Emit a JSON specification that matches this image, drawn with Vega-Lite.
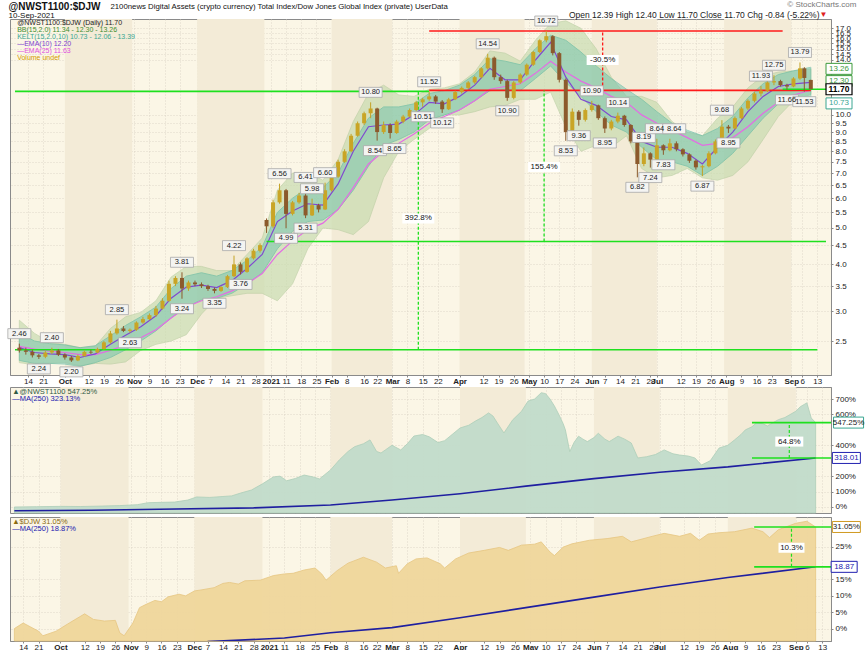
{
"$schema":"https://vega.github.io/schema/vega-lite/v6.json",
"padding":{"left":5,"top":0,"right":0,"bottom":0},
"background":"#ffffff",
"config":{"view":{"stroke":"#8a8a8a","fill":"#fbf6e6"},"font":"Liberation Sans",
 "axis":{"labelFont":"Liberation Sans","labelFontSize":8,"labelColor":"#222","domainColor":"#8a8a8a","tickColor":"#8a8a8a","tickSize":2,"labelPadding":2,"gridColor":"#d9d2c2","gridDash":[1,2],"gridWidth":0.8,"labelOverlap":false,"tickCount":300}},
"datasets":{
"one":[{}],
"mon":[{"s":"2020/10/01","e":"2020/11/01"},{"s":"2020/12/01","e":"2021/01/01"},{"s":"2021/02/01","e":"2021/03/01"},{"s":"2021/04/01","e":"2021/05/01"},{"s":"2021/06/01","e":"2021/07/01"},{"s":"2021/08/01","e":"2021/09/01"}],
"px":[
{"d":"2020/09/10","o":2.40,"h":2.46,"l":2.33,"c":2.36},
{"d":"2020/09/13","o":2.36,"h":2.40,"l":2.30,"c":2.34},
{"d":"2020/09/16","o":2.34,"h":2.37,"l":2.26,"c":2.29},
{"d":"2020/09/19","o":2.29,"h":2.31,"l":2.24,"c":2.27},
{"d":"2020/09/22","o":2.27,"h":2.35,"l":2.25,"c":2.33},
{"d":"2020/09/25","o":2.33,"h":2.40,"l":2.31,"c":2.36},
{"d":"2020/09/28","o":2.36,"h":2.38,"l":2.28,"c":2.30},
{"d":"2020/10/01","o":2.30,"h":2.32,"l":2.23,"c":2.26},
{"d":"2020/10/04","o":2.26,"h":2.28,"l":2.20,"c":2.22},
{"d":"2020/10/07","o":2.22,"h":2.30,"l":2.21,"c":2.28},
{"d":"2020/10/10","o":2.28,"h":2.36,"l":2.27,"c":2.34},
{"d":"2020/10/13","o":2.34,"h":2.37,"l":2.31,"c":2.33},
{"d":"2020/10/16","o":2.33,"h":2.40,"l":2.32,"c":2.38},
{"d":"2020/10/19","o":2.38,"h":2.50,"l":2.37,"c":2.48},
{"d":"2020/10/22","o":2.48,"h":2.66,"l":2.46,"c":2.62},
{"d":"2020/10/25","o":2.62,"h":2.85,"l":2.60,"c":2.70},
{"d":"2020/10/28","o":2.70,"h":2.74,"l":2.64,"c":2.66},
{"d":"2020/10/31","o":2.66,"h":2.70,"l":2.63,"c":2.68},
{"d":"2020/11/03","o":2.68,"h":2.82,"l":2.66,"c":2.80},
{"d":"2020/11/06","o":2.80,"h":2.90,"l":2.78,"c":2.86},
{"d":"2020/11/09","o":2.86,"h":2.96,"l":2.84,"c":2.93},
{"d":"2020/11/12","o":2.93,"h":3.10,"l":2.90,"c":3.05},
{"d":"2020/11/15","o":3.05,"h":3.25,"l":3.03,"c":3.20},
{"d":"2020/11/18","o":3.20,"h":3.62,"l":3.18,"c":3.55},
{"d":"2020/11/21","o":3.55,"h":3.72,"l":3.50,"c":3.68},
{"d":"2020/11/24","o":3.68,"h":3.81,"l":3.24,"c":3.45},
{"d":"2020/11/27","o":3.45,"h":3.62,"l":3.40,"c":3.58},
{"d":"2020/11/30","o":3.58,"h":3.62,"l":3.50,"c":3.54},
{"d":"2020/12/03","o":3.54,"h":3.58,"l":3.46,"c":3.50},
{"d":"2020/12/06","o":3.50,"h":3.53,"l":3.40,"c":3.44},
{"d":"2020/12/09","o":3.44,"h":3.47,"l":3.35,"c":3.40},
{"d":"2020/12/12","o":3.40,"h":3.50,"l":3.38,"c":3.48},
{"d":"2020/12/15","o":3.48,"h":3.75,"l":3.46,"c":3.72},
{"d":"2020/12/18","o":3.72,"h":4.22,"l":3.70,"c":4.00},
{"d":"2020/12/21","o":4.00,"h":4.05,"l":3.76,"c":3.82},
{"d":"2020/12/24","o":3.82,"h":4.18,"l":3.80,"c":4.15},
{"d":"2020/12/27","o":4.15,"h":4.40,"l":4.12,"c":4.35},
{"d":"2020/12/30","o":4.35,"h":4.55,"l":4.30,"c":4.50},
{"d":"2021/01/02","o":5.25,"h":5.30,"l":4.85,"c":5.05},
{"d":"2021/01/05","o":5.05,"h":5.95,"l":5.00,"c":5.85},
{"d":"2021/01/08","o":5.85,"h":6.56,"l":5.80,"c":6.30},
{"d":"2021/01/11","o":6.30,"h":6.35,"l":4.99,"c":5.45},
{"d":"2021/01/14","o":5.45,"h":5.90,"l":5.40,"c":5.85},
{"d":"2021/01/17","o":5.85,"h":6.20,"l":5.80,"c":6.10},
{"d":"2021/01/20","o":6.10,"h":6.41,"l":5.31,"c":5.40},
{"d":"2021/01/23","o":5.40,"h":5.98,"l":5.38,"c":5.75},
{"d":"2021/01/26","o":5.75,"h":5.80,"l":5.50,"c":5.60},
{"d":"2021/01/29","o":5.60,"h":6.60,"l":5.58,"c":6.30},
{"d":"2021/02/01","o":6.30,"h":6.90,"l":6.25,"c":6.85},
{"d":"2021/02/04","o":6.85,"h":7.60,"l":6.80,"c":7.50},
{"d":"2021/02/07","o":7.50,"h":8.10,"l":7.45,"c":8.00},
{"d":"2021/02/10","o":8.00,"h":8.90,"l":7.95,"c":8.80},
{"d":"2021/02/13","o":8.80,"h":9.60,"l":8.75,"c":9.50},
{"d":"2021/02/16","o":9.50,"h":10.20,"l":9.40,"c":10.10},
{"d":"2021/02/19","o":10.10,"h":10.80,"l":9.80,"c":10.40},
{"d":"2021/02/22","o":10.40,"h":10.45,"l":8.54,"c":9.00},
{"d":"2021/02/25","o":9.00,"h":9.60,"l":8.90,"c":9.40},
{"d":"2021/02/28","o":9.40,"h":9.50,"l":8.65,"c":8.95},
{"d":"2021/03/03","o":8.95,"h":9.70,"l":8.90,"c":9.60},
{"d":"2021/03/06","o":9.60,"h":10.00,"l":9.50,"c":9.90},
{"d":"2021/03/09","o":9.90,"h":10.40,"l":9.85,"c":10.30},
{"d":"2021/03/12","o":10.30,"h":10.90,"l":10.20,"c":10.80},
{"d":"2021/03/15","o":10.80,"h":11.10,"l":10.51,"c":11.00},
{"d":"2021/03/18","o":11.00,"h":11.52,"l":10.90,"c":11.20},
{"d":"2021/03/21","o":11.20,"h":11.30,"l":10.70,"c":10.85},
{"d":"2021/03/24","o":10.85,"h":10.95,"l":10.12,"c":10.35},
{"d":"2021/03/27","o":10.35,"h":11.10,"l":10.30,"c":11.00},
{"d":"2021/03/30","o":11.00,"h":11.60,"l":10.95,"c":11.50},
{"d":"2021/04/02","o":11.50,"h":11.90,"l":11.40,"c":11.80},
{"d":"2021/04/05","o":11.80,"h":12.30,"l":11.70,"c":12.20},
{"d":"2021/04/08","o":12.20,"h":12.70,"l":12.10,"c":12.60},
{"d":"2021/04/11","o":12.60,"h":13.40,"l":12.50,"c":13.30},
{"d":"2021/04/14","o":13.30,"h":14.54,"l":13.20,"c":14.20},
{"d":"2021/04/17","o":14.20,"h":14.30,"l":12.40,"c":12.60},
{"d":"2021/04/20","o":12.60,"h":12.80,"l":12.10,"c":12.30},
{"d":"2021/04/23","o":12.30,"h":12.40,"l":10.90,"c":11.10},
{"d":"2021/04/26","o":11.10,"h":12.30,"l":11.00,"c":12.20},
{"d":"2021/04/29","o":12.20,"h":12.90,"l":12.10,"c":12.80},
{"d":"2021/05/02","o":12.80,"h":13.70,"l":12.70,"c":13.60},
{"d":"2021/05/05","o":13.60,"h":14.80,"l":13.50,"c":14.70},
{"d":"2021/05/08","o":14.70,"h":15.90,"l":14.60,"c":15.80},
{"d":"2021/05/11","o":15.80,"h":16.72,"l":15.60,"c":16.20},
{"d":"2021/05/14","o":16.20,"h":16.30,"l":14.40,"c":14.60},
{"d":"2021/05/17","o":14.60,"h":14.70,"l":12.20,"c":12.40},
{"d":"2021/05/20","o":12.40,"h":12.50,"l":8.53,"c":9.00},
{"d":"2021/05/23","o":9.00,"h":10.40,"l":8.80,"c":10.20},
{"d":"2021/05/26","o":10.20,"h":10.30,"l":9.36,"c":9.70},
{"d":"2021/05/29","o":9.70,"h":10.40,"l":9.60,"c":10.30},
{"d":"2021/06/01","o":10.30,"h":10.90,"l":10.20,"c":10.60},
{"d":"2021/06/04","o":10.60,"h":10.65,"l":9.70,"c":9.80},
{"d":"2021/06/07","o":9.80,"h":9.90,"l":8.95,"c":9.20},
{"d":"2021/06/10","o":9.20,"h":9.70,"l":9.10,"c":9.60},
{"d":"2021/06/13","o":9.60,"h":10.14,"l":9.50,"c":9.95},
{"d":"2021/06/16","o":9.95,"h":10.00,"l":9.30,"c":9.40},
{"d":"2021/06/19","o":9.40,"h":9.45,"l":8.40,"c":8.50},
{"d":"2021/06/22","o":8.50,"h":8.55,"l":6.82,"c":7.40},
{"d":"2021/06/25","o":7.40,"h":8.19,"l":7.30,"c":7.90},
{"d":"2021/06/28","o":7.90,"h":7.95,"l":7.24,"c":7.60},
{"d":"2021/07/01","o":7.60,"h":8.64,"l":7.55,"c":8.30},
{"d":"2021/07/04","o":8.30,"h":8.35,"l":7.83,"c":8.05},
{"d":"2021/07/07","o":8.05,"h":8.64,"l":8.00,"c":8.40},
{"d":"2021/07/10","o":8.40,"h":8.50,"l":8.00,"c":8.10},
{"d":"2021/07/13","o":8.10,"h":8.15,"l":7.75,"c":7.85},
{"d":"2021/07/16","o":7.85,"h":7.90,"l":7.45,"c":7.55},
{"d":"2021/07/19","o":7.55,"h":7.60,"l":7.15,"c":7.25},
{"d":"2021/07/22","o":7.25,"h":7.35,"l":6.87,"c":7.30},
{"d":"2021/07/25","o":7.30,"h":8.00,"l":7.25,"c":7.90},
{"d":"2021/07/28","o":7.90,"h":8.60,"l":7.85,"c":8.50},
{"d":"2021/07/31","o":8.50,"h":9.68,"l":8.45,"c":9.30},
{"d":"2021/08/03","o":9.30,"h":9.40,"l":8.95,"c":9.20},
{"d":"2021/08/06","o":9.20,"h":9.90,"l":9.15,"c":9.80},
{"d":"2021/08/09","o":9.80,"h":10.50,"l":9.75,"c":10.40},
{"d":"2021/08/12","o":10.40,"h":11.00,"l":10.30,"c":10.90},
{"d":"2021/08/15","o":10.90,"h":11.50,"l":10.80,"c":11.40},
{"d":"2021/08/18","o":11.40,"h":11.93,"l":11.20,"c":11.60},
{"d":"2021/08/21","o":11.60,"h":12.30,"l":11.50,"c":12.20},
{"d":"2021/08/24","o":12.20,"h":12.75,"l":12.00,"c":12.30},
{"d":"2021/08/27","o":12.30,"h":12.40,"l":11.90,"c":12.00},
{"d":"2021/08/30","o":12.00,"h":12.10,"l":11.66,"c":11.90},
{"d":"2021/09/02","o":11.90,"h":12.60,"l":11.85,"c":12.50},
{"d":"2021/09/05","o":12.50,"h":13.79,"l":12.40,"c":13.30},
{"d":"2021/09/07","o":13.30,"h":13.40,"l":11.53,"c":12.54},
{"d":"2021/09/10","o":12.39,"h":12.40,"l":11.70,"c":11.70}],
"bands":[
{"d":"2020/09/10","e10":2.40,"e25":2.42,"ku":2.62,"kl":2.22,"bu":2.84,"bl":2.19},
{"d":"2020/09/17","e10":2.33,"e25":2.38,"ku":2.50,"kl":2.18,"bu":2.62,"bl":2.16},
{"d":"2020/09/24","e10":2.31,"e25":2.35,"ku":2.46,"kl":2.18,"bu":2.48,"bl":2.18},
{"d":"2020/10/01","e10":2.30,"e25":2.33,"ku":2.44,"kl":2.17,"bu":2.45,"bl":2.19},
{"d":"2020/10/08","e10":2.26,"e25":2.30,"ku":2.40,"kl":2.14,"bu":2.40,"bl":2.15},
{"d":"2020/10/15","e10":2.31,"e25":2.30,"ku":2.43,"kl":2.19,"bu":2.42,"bl":2.18},
{"d":"2020/10/22","e10":2.45,"e25":2.36,"ku":2.58,"kl":2.26,"bu":2.70,"bl":2.17},
{"d":"2020/10/29","e10":2.59,"e25":2.44,"ku":2.75,"kl":2.37,"bu":2.90,"bl":2.20},
{"d":"2020/11/05","e10":2.73,"e25":2.55,"ku":2.90,"kl":2.50,"bu":2.98,"bl":2.36},
{"d":"2020/11/12","e10":2.92,"e25":2.68,"ku":3.08,"kl":2.66,"bu":3.20,"bl":2.45},
{"d":"2020/11/19","e10":3.25,"e25":2.88,"ku":3.45,"kl":2.88,"bu":3.70,"bl":2.50},
{"d":"2020/11/26","e10":3.48,"e25":3.08,"ku":3.72,"kl":3.08,"bu":3.95,"bl":2.60},
{"d":"2020/12/03","e10":3.52,"e25":3.20,"ku":3.80,"kl":3.22,"bu":3.95,"bl":2.95},
{"d":"2020/12/10","e10":3.47,"e25":3.28,"ku":3.72,"kl":3.25,"bu":3.85,"bl":3.25},
{"d":"2020/12/17","e10":3.62,"e25":3.40,"ku":3.85,"kl":3.35,"bu":3.85,"bl":3.30},
{"d":"2020/12/24","e10":3.90,"e25":3.55,"ku":4.10,"kl":3.55,"bu":4.25,"bl":3.35},
{"d":"2020/12/31","e10":4.25,"e25":3.78,"ku":4.45,"kl":3.80,"bu":4.70,"bl":3.35},
{"d":"2021/01/07","e10":5.20,"e25":4.25,"ku":5.50,"kl":4.40,"bu":6.30,"bl":3.20},
{"d":"2021/01/14","e10":5.55,"e25":4.62,"ku":6.00,"kl":4.90,"bu":7.00,"bl":3.55},
{"d":"2021/01/21","e10":5.80,"e25":4.95,"ku":6.40,"kl":5.20,"bu":7.00,"bl":4.40},
{"d":"2021/01/28","e10":5.75,"e25":5.15,"ku":6.40,"kl":5.25,"bu":6.70,"bl":5.00},
{"d":"2021/02/04","e10":6.55,"e25":5.60,"ku":7.00,"kl":5.60,"bu":7.60,"bl":4.95},
{"d":"2021/02/11","e10":8.00,"e25":6.40,"ku":8.40,"kl":6.30,"bu":9.60,"bl":4.80},
{"d":"2021/02/18","e10":9.30,"e25":7.40,"ku":9.80,"kl":7.30,"bu":11.40,"bl":5.20},
{"d":"2021/02/25","e10":9.40,"e25":8.00,"ku":10.50,"kl":8.30,"bu":12.00,"bl":6.80},
{"d":"2021/03/04","e10":9.45,"e25":8.40,"ku":10.50,"kl":8.60,"bu":11.30,"bl":8.00},
{"d":"2021/03/11","e10":10.00,"e25":8.90,"ku":10.70,"kl":9.00,"bu":11.20,"bl":8.60},
{"d":"2021/03/18","e10":10.80,"e25":9.50,"ku":11.40,"kl":9.70,"bu":11.70,"bl":9.20},
{"d":"2021/03/25","e10":10.70,"e25":9.90,"ku":11.60,"kl":10.00,"bu":11.80,"bl":10.00},
{"d":"2021/04/01","e10":11.20,"e25":10.30,"ku":12.00,"kl":10.30,"bu":12.10,"bl":10.00},
{"d":"2021/04/08","e10":12.00,"e25":10.90,"ku":12.80,"kl":10.90,"bu":13.00,"bl":10.20},
{"d":"2021/04/15","e10":13.30,"e25":11.70,"ku":14.10,"kl":11.60,"bu":14.80,"bl":10.50},
{"d":"2021/04/22","e10":12.40,"e25":11.90,"ku":13.90,"kl":11.70,"bu":14.60,"bl":10.60},
{"d":"2021/04/29","e10":12.40,"e25":12.10,"ku":13.60,"kl":11.60,"bu":13.90,"bl":11.00},
{"d":"2021/05/06","e10":14.00,"e25":12.90,"ku":15.00,"kl":12.50,"bu":15.80,"bl":11.00},
{"d":"2021/05/13","e10":15.60,"e25":13.90,"ku":16.30,"kl":13.50,"bu":17.50,"bl":11.50},
{"d":"2021/05/20","e10":12.60,"e25":13.00,"ku":15.80,"kl":12.20,"bu":17.80,"bl":9.30},
{"d":"2021/05/27","e10":11.00,"e25":12.30,"ku":14.70,"kl":11.20,"bu":17.00,"bl":8.00},
{"d":"2021/06/03","e10":10.60,"e25":11.80,"ku":13.50,"kl":10.20,"bu":15.00,"bl":8.30},
{"d":"2021/06/10","e10":9.90,"e25":11.20,"ku":12.50,"kl":9.40,"bu":12.60,"bl":8.20},
{"d":"2021/06/17","e10":9.70,"e25":10.80,"ku":11.70,"kl":9.00,"bu":11.20,"bl":8.80},
{"d":"2021/06/24","e10":8.50,"e25":10.00,"ku":11.00,"kl":8.20,"bu":11.20,"bl":7.20},
{"d":"2021/07/01","e10":8.20,"e25":9.50,"ku":10.20,"kl":7.60,"bu":10.80,"bl":6.80},
{"d":"2021/07/08","e10":8.20,"e25":9.10,"ku":9.50,"kl":7.50,"bu":9.60,"bl":6.90},
{"d":"2021/07/15","e10":7.90,"e25":8.70,"ku":9.10,"kl":7.30,"bu":9.00,"bl":7.20},
{"d":"2021/07/22","e10":7.40,"e25":8.30,"ku":8.80,"kl":6.90,"bu":8.80,"bl":6.80},
{"d":"2021/07/29","e10":8.20,"e25":8.40,"ku":9.20,"kl":7.30,"bu":9.80,"bl":6.70},
{"d":"2021/08/05","e10":9.00,"e25":8.70,"ku":9.90,"kl":7.90,"bu":10.50,"bl":6.90},
{"d":"2021/08/12","e10":10.20,"e25":9.30,"ku":11.10,"kl":8.80,"bu":11.80,"bl":7.50},
{"d":"2021/08/19","e10":11.20,"e25":10.10,"ku":12.10,"kl":9.80,"bu":12.70,"bl":8.60},
{"d":"2021/08/26","e10":11.90,"e25":10.80,"ku":12.80,"kl":10.70,"bu":13.00,"bl":9.90},
{"d":"2021/09/02","e10":12.10,"e25":11.30,"ku":13.10,"kl":11.00,"bu":13.10,"bl":10.90},
{"d":"2021/09/10","e10":12.20,"e25":11.63,"ku":13.39,"kl":10.73,"bu":13.26,"bl":11.34}],
"lbl":[
{"d":"2020/09/10","p":2.46,"t":"2.46","k":"h"},{"d":"2020/09/25","p":2.40,"t":"2.40","k":"h"},{"d":"2020/10/25","p":2.85,"t":"2.85","k":"h"},{"d":"2020/11/24","p":3.81,"t":"3.81","k":"h"},{"d":"2020/12/18","p":4.22,"t":"4.22","k":"h"},{"d":"2021/01/08","p":6.56,"t":"6.56","k":"h"},{"d":"2021/01/20","p":6.41,"t":"6.41","k":"h"},{"d":"2021/01/23","p":5.98,"t":"5.98","k":"h"},{"d":"2021/01/29","p":6.60,"t":"6.60","k":"h"},{"d":"2021/02/19","p":10.80,"t":"10.80","k":"h"},{"d":"2021/03/18","p":11.52,"t":"11.52","k":"h"},{"d":"2021/04/14","p":14.54,"t":"14.54","k":"h"},{"d":"2021/05/11","p":16.72,"t":"16.72","k":"h"},{"d":"2021/06/01","p":10.90,"t":"10.90","k":"h"},{"d":"2021/06/13","p":10.14,"t":"10.14","k":"h"},{"d":"2021/06/25","p":8.19,"t":"8.19","k":"h"},{"d":"2021/07/01","p":8.64,"t":"8.64","k":"h"},{"d":"2021/07/09","p":8.64,"t":"8.64","k":"h"},{"d":"2021/07/31","p":9.68,"t":"9.68","k":"h"},{"d":"2021/08/18","p":11.93,"t":"11.93","k":"h"},{"d":"2021/08/24","p":12.75,"t":"12.75","k":"h"},{"d":"2021/09/05","p":13.79,"t":"13.79","k":"h"},
{"d":"2020/09/19","p":2.24,"t":"2.24","k":"l"},{"d":"2020/10/04","p":2.20,"t":"2.20","k":"l"},{"d":"2020/10/31","p":2.63,"t":"2.63","k":"l"},{"d":"2020/11/24","p":3.24,"t":"3.24","k":"l"},{"d":"2020/12/09","p":3.35,"t":"3.35","k":"l"},{"d":"2020/12/21","p":3.76,"t":"3.76","k":"l"},{"d":"2021/01/11","p":4.99,"t":"4.99","k":"l"},{"d":"2021/01/20","p":5.31,"t":"5.31","k":"l"},{"d":"2021/02/21","p":8.54,"t":"8.54","k":"l"},{"d":"2021/03/02","p":8.65,"t":"8.65","k":"l"},{"d":"2021/03/15","p":10.51,"t":"10.51","k":"l"},{"d":"2021/03/24","p":10.12,"t":"10.12","k":"l"},{"d":"2021/04/23","p":10.90,"t":"10.90","k":"l"},{"d":"2021/05/20","p":8.53,"t":"8.53","k":"l"},{"d":"2021/05/26","p":9.36,"t":"9.36","k":"l"},{"d":"2021/06/07","p":8.95,"t":"8.95","k":"l"},{"d":"2021/06/22","p":6.82,"t":"6.82","k":"l"},{"d":"2021/06/28","p":7.24,"t":"7.24","k":"l"},{"d":"2021/07/04","p":7.83,"t":"7.83","k":"l"},{"d":"2021/07/22","p":6.87,"t":"6.87","k":"l"},{"d":"2021/08/03","p":8.95,"t":"8.95","k":"l"},{"d":"2021/08/30","p":11.66,"t":"11.66","k":"l"},{"d":"2021/09/07","p":11.53,"t":"11.53","k":"l"}],
"hl":[{"s":"2020/09/08","e":"2021/03/18","p":11.55,"c":"#1ee01e"},{"s":"2021/03/18","e":"2021/09/10","p":11.62,"c":"#ff1a1a"},{"s":"2021/08/28","e":"2021/09/17","p":11.70,"c":"#1ee01e"},{"s":"2021/03/18","e":"2021/08/28","p":16.72,"c":"#ff1a1a"},{"s":"2021/01/02","e":"2021/09/17","p":4.60,"c":"#1ee01e"},{"s":"2020/09/08","e":"2021/09/13","p":2.37,"c":"#1ee01e"}],
"vl":[{"d":"2021/03/13","a":2.37,"b":11.55,"c":"#1ee01e"},{"d":"2021/05/10","a":4.60,"b":11.62,"c":"#1ee01e"},{"d":"2021/06/06","a":11.62,"b":16.72,"c":"#ff1a1a"}],
"pct":[{"d":"2021/03/13","p":5.3,"t":"392.8%"},{"d":"2021/05/10","p":7.27,"t":"155.4%"},{"d":"2021/06/06","p":14.0,"t":"-30.5%"}],
"rb":[{"p":13.26,"t":"13.26","c":"#3d9a3d"},{"p":12.30,"t":"12.30","c":"#3d9a3d"},{"p":10.73,"t":"10.73","c":"#3aa692"}],
"p1":[{"d":"2020/09/10","v":0},{"d":"2020/09/20","v":2},{"d":"2020/10/01","v":4},{"d":"2020/10/10","v":3},{"d":"2020/10/20","v":6},{"d":"2020/10/28","v":9},{"d":"2020/11/05","v":15},{"d":"2020/11/10","v":28},{"d":"2020/11/16","v":30},{"d":"2020/11/22","v":32},{"d":"2020/11/28","v":45},{"d":"2020/12/02","v":65},{"d":"2020/12/08","v":62},{"d":"2020/12/14","v":68},{"d":"2020/12/18","v":72},{"d":"2020/12/22","v":90},{"d":"2020/12/27","v":110},{"d":"2021/01/01","v":150},{"d":"2021/01/06","v":195},{"d":"2021/01/09","v":200},{"d":"2021/01/12","v":170},{"d":"2021/01/16","v":185},{"d":"2021/01/20","v":207},{"d":"2021/01/24","v":195},{"d":"2021/01/27","v":182},{"d":"2021/02/01","v":240},{"d":"2021/02/05","v":305},{"d":"2021/02/09","v":360},{"d":"2021/02/12","v":391},{"d":"2021/02/16","v":410},{"d":"2021/02/19","v":435},{"d":"2021/02/22","v":360},{"d":"2021/02/24","v":350},{"d":"2021/02/26","v":370},{"d":"2021/03/01","v":400},{"d":"2021/03/05","v":370},{"d":"2021/03/08","v":410},{"d":"2021/03/11","v":460},{"d":"2021/03/15","v":470},{"d":"2021/03/18","v":455},{"d":"2021/03/22","v":418},{"d":"2021/03/25","v":430},{"d":"2021/04/01","v":512},{"d":"2021/04/05","v":530},{"d":"2021/04/08","v":557},{"d":"2021/04/11","v":580},{"d":"2021/04/14","v":610},{"d":"2021/04/16","v":590},{"d":"2021/04/18","v":545},{"d":"2021/04/21","v":480},{"d":"2021/04/25","v":565},{"d":"2021/04/29","v":620},{"d":"2021/05/02","v":687},{"d":"2021/05/05","v":700},{"d":"2021/05/08","v":741},{"d":"2021/05/10","v":735},{"d":"2021/05/12","v":700},{"d":"2021/05/14","v":655},{"d":"2021/05/16","v":600},{"d":"2021/05/18","v":540},{"d":"2021/05/19","v":500},{"d":"2021/05/21","v":359},{"d":"2021/05/23","v":420},{"d":"2021/05/25","v":459},{"d":"2021/05/27","v":440},{"d":"2021/05/29","v":424},{"d":"2021/06/01","v":450},{"d":"2021/06/03","v":478},{"d":"2021/06/06","v":440},{"d":"2021/06/08","v":424},{"d":"2021/06/12","v":459},{"d":"2021/06/15","v":440},{"d":"2021/06/18","v":415},{"d":"2021/06/21","v":318},{"d":"2021/06/25","v":326},{"d":"2021/06/29","v":340},{"d":"2021/07/03","v":370},{"d":"2021/07/07","v":345},{"d":"2021/07/10","v":337},{"d":"2021/07/14","v":330},{"d":"2021/07/17","v":318},{"d":"2021/07/20","v":272},{"d":"2021/07/24","v":300},{"d":"2021/07/28","v":382},{"d":"2021/08/01","v":400},{"d":"2021/08/04","v":434},{"d":"2021/08/07","v":470},{"d":"2021/08/09","v":500},{"d":"2021/08/12","v":520},{"d":"2021/08/14","v":545},{"d":"2021/08/17","v":540},{"d":"2021/08/19","v":525},{"d":"2021/08/22","v":550},{"d":"2021/08/24","v":566},{"d":"2021/08/27","v":580},{"d":"2021/09/01","v":621},{"d":"2021/09/03","v":650},{"d":"2021/09/06","v":675},{"d":"2021/09/08","v":577},{"d":"2021/09/10","v":547.25}],
"m1":[{"d":"2020/09/10","v":-24},{"d":"2020/10/15","v":-21},{"d":"2020/11/15","v":-15},{"d":"2020/12/28","v":-6},{"d":"2021/02/01","v":13},{"d":"2021/03/01","v":45},{"d":"2021/04/01","v":86},{"d":"2021/05/01","v":135},{"d":"2021/06/01","v":184},{"d":"2021/07/01","v":225},{"d":"2021/08/01","v":260},{"d":"2021/09/10","v":318}],
"p2":[{"d":"2020/09/10","v":0},{"d":"2020/09/14","v":1.7},{"d":"2020/09/21","v":-0.8},{"d":"2020/09/23","v":-2.2},{"d":"2020/09/29","v":-0.8},{"d":"2020/10/05","v":1.7},{"d":"2020/10/12","v":4.5},{"d":"2020/10/16","v":2.8},{"d":"2020/10/21","v":2.3},{"d":"2020/10/26","v":2.5},{"d":"2020/10/28","v":-1.3},{"d":"2020/10/30","v":-2.2},{"d":"2020/11/03","v":1.7},{"d":"2020/11/06","v":6.4},{"d":"2020/11/09","v":7.4},{"d":"2020/11/13","v":8.6},{"d":"2020/11/16","v":8.2},{"d":"2020/11/19","v":9.7},{"d":"2020/11/24","v":10.5},{"d":"2020/11/27","v":10.0},{"d":"2020/12/01","v":11.5},{"d":"2020/12/04","v":11.8},{"d":"2020/12/10","v":12.5},{"d":"2020/12/14","v":13.8},{"d":"2020/12/17","v":14.1},{"d":"2020/12/21","v":13.6},{"d":"2020/12/24","v":14.6},{"d":"2020/12/31","v":14.8},{"d":"2021/01/06","v":16.2},{"d":"2021/01/11","v":16.7},{"d":"2021/01/15","v":16.9},{"d":"2021/01/20","v":17.9},{"d":"2021/01/25","v":18.5},{"d":"2021/01/28","v":16.7},{"d":"2021/01/30","v":14.8},{"d":"2021/02/04","v":17.7},{"d":"2021/02/09","v":20.0},{"d":"2021/02/16","v":21.8},{"d":"2021/02/22","v":20.3},{"d":"2021/02/26","v":18.5},{"d":"2021/03/03","v":19.2},{"d":"2021/03/04","v":16.9},{"d":"2021/03/08","v":19.8},{"d":"2021/03/12","v":21.3},{"d":"2021/03/17","v":21.6},{"d":"2021/03/23","v":19.8},{"d":"2021/03/25","v":18.5},{"d":"2021/03/30","v":21.3},{"d":"2021/04/05","v":23.1},{"d":"2021/04/12","v":23.9},{"d":"2021/04/19","v":24.8},{"d":"2021/04/23","v":23.9},{"d":"2021/04/29","v":25.5},{"d":"2021/05/05","v":25.8},{"d":"2021/05/08","v":26.5},{"d":"2021/05/12","v":23.4},{"d":"2021/05/14","v":22.3},{"d":"2021/05/18","v":24.9},{"d":"2021/05/22","v":25.9},{"d":"2021/05/30","v":27.0},{"d":"2021/06/07","v":27.5},{"d":"2021/06/14","v":28.2},{"d":"2021/06/18","v":26.5},{"d":"2021/06/22","v":27.2},{"d":"2021/06/27","v":28.1},{"d":"2021/07/03","v":29.1},{"d":"2021/07/10","v":28.2},{"d":"2021/07/15","v":29.1},{"d":"2021/07/19","v":27.0},{"d":"2021/07/23","v":28.9},{"d":"2021/07/28","v":29.3},{"d":"2021/08/04","v":29.6},{"d":"2021/08/12","v":30.7},{"d":"2021/08/17","v":29.6},{"d":"2021/08/20","v":27.8},{"d":"2021/08/24","v":30.2},{"d":"2021/09/01","v":32.2},{"d":"2021/09/06","v":32.8},{"d":"2021/09/10","v":31.05}],
"m2":[{"d":"2020/12/07","v":-4.0},{"d":"2021/01/11","v":-2.9},{"d":"2021/02/01","v":-1.3},{"d":"2021/03/01","v":0.3},{"d":"2021/04/01","v":3.3},{"d":"2021/05/01","v":6.4},{"d":"2021/06/01","v":9.6},{"d":"2021/07/01","v":12.7},{"d":"2021/08/01","v":15.6},{"d":"2021/09/10","v":18.87}]
},
"spacing":0,
"vconcat":[
{"width":821,"height":356,
 "layer":[
  {"data":{"name":"mon"},"mark":{"type":"rect","color":"#f3ebd7"},
   "encoding":{"x":{"field":"s","type":"temporal","title":null,"scale":{"domain":[{"year":2020,"month":9,"date":8},{"year":2021,"month":9,"date":17}]},
     "axis":{"orient":"bottom","grid":true,"labelOverlap":false,"tickCount":300,"labelFlush":false,"labelFontSize":8,"labelPadding":0,"tickSize":2,
      "labelExpr":"date(datum.value) <= 4 ? (month(datum.value) == 0 ? '2021' : timeFormat(datum.value, '%b')) : timeFormat(datum.value, '%-d')",
      "labelFontWeight":{"condition":{"test":"date(datum.value) <= 4","value":"bold"},"value":"normal"},
      "values":[{"year":2020,"month":9,"date":14},{"year":2020,"month":9,"date":21},{"year":2020,"month":10,"date":1},{"year":2020,"month":10,"date":12},{"year":2020,"month":10,"date":19},{"year":2020,"month":10,"date":26},{"year":2020,"month":11,"date":2},{"year":2020,"month":11,"date":9},{"year":2020,"month":11,"date":16},{"year":2020,"month":11,"date":23},{"year":2020,"month":12,"date":1},{"year":2020,"month":12,"date":7},{"year":2020,"month":12,"date":14},{"year":2020,"month":12,"date":21},{"year":2020,"month":12,"date":28},{"year":2021,"month":1,"date":4},{"year":2021,"month":1,"date":11},{"year":2021,"month":1,"date":18},{"year":2021,"month":1,"date":25},{"year":2021,"month":2,"date":1},{"year":2021,"month":2,"date":8},{"year":2021,"month":2,"date":16},{"year":2021,"month":2,"date":22},{"year":2021,"month":3,"date":1},{"year":2021,"month":3,"date":8},{"year":2021,"month":3,"date":15},{"year":2021,"month":3,"date":22},{"year":2021,"month":4,"date":1},{"year":2021,"month":4,"date":12},{"year":2021,"month":4,"date":19},{"year":2021,"month":4,"date":26},{"year":2021,"month":5,"date":3},{"year":2021,"month":5,"date":10},{"year":2021,"month":5,"date":17},{"year":2021,"month":5,"date":24},{"year":2021,"month":6,"date":1},{"year":2021,"month":6,"date":7},{"year":2021,"month":6,"date":14},{"year":2021,"month":6,"date":21},{"year":2021,"month":6,"date":28},{"year":2021,"month":7,"date":1},{"year":2021,"month":7,"date":12},{"year":2021,"month":7,"date":19},{"year":2021,"month":7,"date":26},{"year":2021,"month":8,"date":2},{"year":2021,"month":8,"date":9},{"year":2021,"month":8,"date":16},{"year":2021,"month":8,"date":23},{"year":2021,"month":9,"date":1},{"year":2021,"month":9,"date":6},{"year":2021,"month":9,"date":13}]}},
    "x2":{"field":"e"}}},
  {"data":{"name":"bands"},"mark":{"type":"area","color":"#c9dcb0","opacity":0.7,"stroke":"#b3c99a","strokeWidth":0.8},
   "encoding":{"x":{"field":"d","type":"temporal","title":null},
    "y":{"field":"bl","type":"quantitative","title":null,"scale":{"type":"log","domain":[2.03,18],"nice":false,"zero":false},
     "axis":{"orient":"right","grid":true,"format":".1f","labelOverlap":false,"tickCount":300,"values":[2.5,3,3.5,4,4.5,5,5.5,6,6.5,7,7.5,8,8.5,9,9.5,10,14,14.5,15,15.5,16,16.5,17]}},
    "y2":{"field":"bu"}}},
  {"data":{"name":"bands"},"mark":{"type":"area","color":"#6fc2ad","opacity":0.5,"stroke":"#3fae9a","strokeWidth":1},
   "encoding":{"x":{"field":"d","type":"temporal","title":null},"y":{"field":"kl","type":"quantitative","title":null,"scale":{"type":"log"}},"y2":{"field":"ku"}}},
  {"data":{"name":"bands"},"mark":{"type":"line","color":"#e46ce4","strokeWidth":1.2},
   "encoding":{"x":{"field":"d","type":"temporal","title":null},"y":{"field":"e25","type":"quantitative","title":null,"scale":{"type":"log"}}}},
  {"data":{"name":"bands"},"mark":{"type":"line","color":"#8048d0","strokeWidth":1.2},
   "encoding":{"x":{"field":"d","type":"temporal","title":null},"y":{"field":"e10","type":"quantitative","title":null,"scale":{"type":"log"}}}},
  {"data":{"name":"hl"},"mark":{"type":"rule","strokeWidth":1.6},
   "encoding":{"x":{"field":"s","type":"temporal","title":null},"x2":{"field":"e"},"y":{"field":"p","type":"quantitative","title":null,"scale":{"type":"log"}},"color":{"field":"c","type":"nominal","scale":null}}},
  {"data":{"name":"vl"},"mark":{"type":"rule","strokeWidth":1.3,"strokeDash":[3,2]},
   "encoding":{"x":{"field":"d","type":"temporal","title":null},"y":{"field":"a","type":"quantitative","title":null,"scale":{"type":"log"}},"y2":{"field":"b"},"color":{"field":"c","type":"nominal","scale":null}}},
  {"data":{"name":"px"},"mark":{"type":"rule","strokeWidth":1},
   "encoding":{"x":{"field":"d","type":"temporal","title":null},"y":{"field":"l","type":"quantitative","title":null,"scale":{"type":"log"}},"y2":{"field":"h"},
    "color":{"condition":{"test":"datum.c >= datum.o","value":"#c4a224"},"value":"#8c5a2c"}}},
  {"data":{"name":"px"},"mark":{"type":"bar","width":4},
   "encoding":{"x":{"field":"d","type":"temporal","title":null},"y":{"field":"o","type":"quantitative","title":null,"scale":{"type":"log"}},"y2":{"field":"c"},
    "color":{"condition":{"test":"datum.c >= datum.o","value":"#c9a526"},"value":"#8c5a2c"}}},
  {"data":{"name":"lbl"},"transform":[{"filter":"datum.k == 'h'"}],"mark":{"type":"point","shape":"M-1.15,-0.5H1.15V0.5H-1.15Z","size":400,"filled":true,"fill":"#f4f4f2","stroke":"#a8a8a8","strokeWidth":0.8,"opacity":1,"yOffset":-10},
   "encoding":{"x":{"field":"d","type":"temporal","title":null},"y":{"field":"p","type":"quantitative","title":null,"scale":{"type":"log"}}}},
  {"data":{"name":"lbl"},"transform":[{"filter":"datum.k == 'h'"}],"mark":{"type":"text","fontSize":7.5,"color":"#222","yOffset":-10},
   "encoding":{"x":{"field":"d","type":"temporal","title":null},"y":{"field":"p","type":"quantitative","title":null,"scale":{"type":"log"}},"text":{"field":"t"}}},
  {"data":{"name":"lbl"},"transform":[{"filter":"datum.k == 'l'"}],"mark":{"type":"point","shape":"M-1.15,-0.5H1.15V0.5H-1.15Z","size":400,"filled":true,"fill":"#f4f4f2","stroke":"#a8a8a8","strokeWidth":0.8,"opacity":1,"yOffset":10},
   "encoding":{"x":{"field":"d","type":"temporal","title":null},"y":{"field":"p","type":"quantitative","title":null,"scale":{"type":"log"}}}},
  {"data":{"name":"lbl"},"transform":[{"filter":"datum.k == 'l'"}],"mark":{"type":"text","fontSize":7.5,"color":"#222","yOffset":10},
   "encoding":{"x":{"field":"d","type":"temporal","title":null},"y":{"field":"p","type":"quantitative","title":null,"scale":{"type":"log"}},"text":{"field":"t"}}},
  {"data":{"name":"pct"},"mark":{"type":"point","shape":"M-1.6,-0.5H1.6V0.5H-1.6Z","size":400,"filled":true,"fill":"#ffffff","opacity":1},
   "encoding":{"x":{"field":"d","type":"temporal","title":null},"y":{"field":"p","type":"quantitative","title":null,"scale":{"type":"log"}}}},
  {"data":{"name":"pct"},"mark":{"type":"text","fontSize":8,"color":"#111"},
   "encoding":{"x":{"field":"d","type":"temporal","title":null},"y":{"field":"p","type":"quantitative","title":null,"scale":{"type":"log"}},"text":{"field":"t"}}},
  {"data":{"name":"rb"},"mark":{"type":"point","shape":"M-1.3,-0.55H1.3V0.55H-1.3Z","size":400,"filled":true,"fill":"#ffffff","strokeWidth":1,"opacity":1},
   "encoding":{"x":{"datum":{"year":2021,"month":9,"date":23},"type":"temporal"},"y":{"field":"p","type":"quantitative","title":null,"scale":{"type":"log"}},"stroke":{"field":"c","type":"nominal","scale":null}}},
  {"data":{"name":"rb"},"mark":{"type":"text","fontSize":8},
   "encoding":{"x":{"datum":{"year":2021,"month":9,"date":23},"type":"temporal"},"y":{"field":"p","type":"quantitative","title":null,"scale":{"type":"log"}},"text":{"field":"t"},"color":{"field":"c","type":"nominal","scale":null}}},
  {"data":{"name":"one"},"mark":{"type":"point","shape":"M-1.3,-0.55H1.3V0.55H-1.3Z","size":400,"filled":true,"fill":"#ffffff","stroke":"#000000","strokeWidth":1.2,"opacity":1},
   "encoding":{"x":{"datum":{"year":2021,"month":9,"date":23},"type":"temporal"},"y":{"datum":11.70,"type":"quantitative","scale":{"type":"log"}}}},
  {"data":{"name":"one"},"mark":{"type":"text","fontSize":8.5,"fontWeight":"bold","color":"#000","text":"11.70"},
   "encoding":{"x":{"datum":{"year":2021,"month":9,"date":23},"type":"temporal"},"y":{"datum":11.70,"type":"quantitative","scale":{"type":"log"}}}},
  {"data":{"name":"one"},"mark":{"type":"text","fontSize":7,"align":"left","color":"#222","text":"@NWST1100:$DJW (Daily) 11.70"},
   "encoding":{"x":{"datum":{"year":2020,"month":9,"date":9},"type":"temporal"},"y":{"datum":17.56,"type":"quantitative","scale":{"type":"log"}}}},
  {"data":{"name":"one"},"mark":{"type":"text","fontSize":7,"align":"left","color":"#3d8c2e","text":"BB(15,2.0) 11.34 - 12.30 - 13.26"},
   "encoding":{"x":{"datum":{"year":2020,"month":9,"date":9},"type":"temporal"},"y":{"datum":16.82,"type":"quantitative","scale":{"type":"log"}}}},
  {"data":{"name":"one"},"mark":{"type":"text","fontSize":7,"align":"left","color":"#3aa692","text":"KELT(15,2.0,10) 10.73 - 12.06 - 13.39"},
   "encoding":{"x":{"datum":{"year":2020,"month":9,"date":9},"type":"temporal"},"y":{"datum":16.12,"type":"quantitative","scale":{"type":"log"}}}},
  {"data":{"name":"one"},"mark":{"type":"text","fontSize":7,"align":"left","color":"#7b3fd0","text":"—EMA(10) 12.20"},
   "encoding":{"x":{"datum":{"year":2020,"month":9,"date":9},"type":"temporal"},"y":{"datum":15.44,"type":"quantitative","scale":{"type":"log"}}}},
  {"data":{"name":"one"},"mark":{"type":"text","fontSize":7,"align":"left","color":"#e050e0","text":"—EMA(25) 11.63"},
   "encoding":{"x":{"datum":{"year":2020,"month":9,"date":9},"type":"temporal"},"y":{"datum":14.79,"type":"quantitative","scale":{"type":"log"}}}},
  {"data":{"name":"one"},"mark":{"type":"text","fontSize":7,"align":"left","color":"#d39a00","text":"Volume undef"},
   "encoding":{"x":{"datum":{"year":2020,"month":9,"date":9},"type":"temporal"},"y":{"datum":14.17,"type":"quantitative","scale":{"type":"log"}}}},
  {"data":{"name":"one"},"mark":{"type":"text","fontSize":10,"fontWeight":"bold","align":"left","color":"#111","text":"@NWST1100:$DJW"},
   "encoding":{"x":{"datum":{"year":2020,"month":9,"date":5},"type":"temporal"},"y":{"datum":19.36,"type":"quantitative","scale":{"type":"log"}}}},
  {"data":{"name":"one"},"mark":{"type":"text","fontSize":7.8,"align":"left","color":"#111","text":"2100news Digital Assets (crypto currency) Total Index/Dow Jones Global Index (private) UserData"},
   "encoding":{"x":{"datum":{"year":2020,"month":10,"date":22},"type":"temporal"},"y":{"datum":19.36,"type":"quantitative","scale":{"type":"log"}}}},
  {"data":{"name":"one"},"mark":{"type":"text","fontSize":8,"align":"left","color":"#111","text":"10-Sep-2021"},
   "encoding":{"x":{"datum":{"year":2020,"month":9,"date":5},"type":"temporal"},"y":{"datum":18.33,"type":"quantitative","scale":{"type":"log"}}}},
  {"data":{"name":"one"},"mark":{"type":"text","fontSize":8,"align":"right","color":"#777","text":"© StockCharts.com"},
   "encoding":{"x":{"datum":{"year":2021,"month":10,"date":1},"type":"temporal"},"y":{"datum":19.6,"type":"quantitative","scale":{"type":"log"}}}},
  {"data":{"name":"one"},"mark":{"type":"text","fontSize":8.5,"align":"right","color":"#222","text":"Open 12.39  High 12.40  Low 11.70  Close 11.70  Chg -0.84 (-5.22%)"},
   "encoding":{"x":{"datum":{"year":2021,"month":9,"date":14},"type":"temporal"},"y":{"datum":18.45,"type":"quantitative","scale":{"type":"log"}}}},
  {"data":{"name":"one"},"mark":{"type":"text","fontSize":8,"align":"left","color":"#e02020","text":"▼"},
   "encoding":{"x":{"datum":{"year":2021,"month":9,"date":14},"type":"temporal"},"y":{"datum":18.45,"type":"quantitative","scale":{"type":"log"}}}}
 ]},
{"width":821,"height":126,
 "layer":[
  {"data":{"name":"mon"},"mark":{"type":"rect","color":"#f3ebd7"},
   "encoding":{"x":{"field":"s","type":"temporal","title":null,"scale":{"domain":[{"year":2020,"month":9,"date":8},{"year":2021,"month":9,"date":17}]},
     "axis":{"orient":"bottom","grid":true,"labels":false,"ticks":false,"domain":false,"tickCount":300,
      "values":[{"year":2020,"month":9,"date":14},{"year":2020,"month":9,"date":21},{"year":2020,"month":10,"date":1},{"year":2020,"month":10,"date":12},{"year":2020,"month":10,"date":19},{"year":2020,"month":10,"date":26},{"year":2020,"month":11,"date":2},{"year":2020,"month":11,"date":9},{"year":2020,"month":11,"date":16},{"year":2020,"month":11,"date":23},{"year":2020,"month":12,"date":1},{"year":2020,"month":12,"date":7},{"year":2020,"month":12,"date":14},{"year":2020,"month":12,"date":21},{"year":2020,"month":12,"date":28},{"year":2021,"month":1,"date":4},{"year":2021,"month":1,"date":11},{"year":2021,"month":1,"date":18},{"year":2021,"month":1,"date":25},{"year":2021,"month":2,"date":1},{"year":2021,"month":2,"date":8},{"year":2021,"month":2,"date":16},{"year":2021,"month":2,"date":22},{"year":2021,"month":3,"date":1},{"year":2021,"month":3,"date":8},{"year":2021,"month":3,"date":15},{"year":2021,"month":3,"date":22},{"year":2021,"month":4,"date":1},{"year":2021,"month":4,"date":12},{"year":2021,"month":4,"date":19},{"year":2021,"month":4,"date":26},{"year":2021,"month":5,"date":3},{"year":2021,"month":5,"date":10},{"year":2021,"month":5,"date":17},{"year":2021,"month":5,"date":24},{"year":2021,"month":6,"date":1},{"year":2021,"month":6,"date":7},{"year":2021,"month":6,"date":14},{"year":2021,"month":6,"date":21},{"year":2021,"month":6,"date":28},{"year":2021,"month":7,"date":1},{"year":2021,"month":7,"date":12},{"year":2021,"month":7,"date":19},{"year":2021,"month":7,"date":26},{"year":2021,"month":8,"date":2},{"year":2021,"month":8,"date":9},{"year":2021,"month":8,"date":16},{"year":2021,"month":8,"date":23},{"year":2021,"month":9,"date":1},{"year":2021,"month":9,"date":6},{"year":2021,"month":9,"date":13}]}},
    "x2":{"field":"e"}}},
  {"data":{"name":"p1"},"mark":{"type":"area","color":"#c2dccb","opacity":0.95,"stroke":"#a9cdb8","strokeWidth":0.8},
   "encoding":{"x":{"field":"d","type":"temporal","title":null},
    "y":{"field":"v","type":"quantitative","title":null,"scale":{"domain":[-39,778],"nice":false,"zero":false},
     "axis":{"orient":"right","grid":true,"tickCount":300,"values":[0,100,200,400,600,700],"labelExpr":"datum.value + '%'"}},
    "y2":{"datum":-39}}},
  {"data":{"name":"m1"},"mark":{"type":"line","color":"#1f1fa0","strokeWidth":1.6,"clip":true},
   "encoding":{"x":{"field":"d","type":"temporal","title":null},"y":{"field":"v","type":"quantitative","title":null}}},
  {"data":{"values":[{"p":547.25},{"p":318}]},"mark":{"type":"rule","color":"#1ee01e","strokeWidth":1.6},
   "encoding":{"x":{"datum":{"year":2021,"month":8,"date":12},"type":"temporal"},"x2":{"datum":{"year":2021,"month":9,"date":17}},"y":{"field":"p","type":"quantitative","title":null}}},
  {"data":{"name":"one"},"mark":{"type":"rule","color":"#1ee01e","strokeWidth":1.2,"strokeDash":[3,2]},
   "encoding":{"x":{"datum":{"year":2021,"month":8,"date":29},"type":"temporal"},"y":{"datum":318,"type":"quantitative"},"y2":{"datum":547.25}}},
  {"data":{"name":"one"},"mark":{"type":"point","shape":"M-1.4,-0.5H1.4V0.5H-1.4Z","size":400,"filled":true,"fill":"#ffffff","opacity":1},
   "encoding":{"x":{"datum":{"year":2021,"month":8,"date":29},"type":"temporal"},"y":{"datum":424,"type":"quantitative"}}},
  {"data":{"name":"one"},"mark":{"type":"text","fontSize":8,"color":"#111","text":"64.8%"},
   "encoding":{"x":{"datum":{"year":2021,"month":8,"date":29},"type":"temporal"},"y":{"datum":424,"type":"quantitative"}}},
  {"data":{"name":"one"},"mark":{"type":"point","shape":"M-1.5,-0.55H1.5V0.55H-1.5Z","size":400,"filled":true,"fill":"#ffffff","stroke":"#3aa692","strokeWidth":1,"opacity":1},
   "encoding":{"x":{"datum":{"year":2021,"month":9,"date":25},"type":"temporal"},"y":{"datum":547.25,"type":"quantitative"}}},
  {"data":{"name":"one"},"mark":{"type":"text","fontSize":8,"color":"#222","text":"547.25%"},
   "encoding":{"x":{"datum":{"year":2021,"month":9,"date":25},"type":"temporal"},"y":{"datum":547.25,"type":"quantitative"}}},
  {"data":{"name":"one"},"mark":{"type":"point","shape":"M-1.4,-0.55H1.4V0.55H-1.4Z","size":400,"filled":true,"fill":"#ffffff","stroke":"#2020b0","strokeWidth":1,"opacity":1},
   "encoding":{"x":{"datum":{"year":2021,"month":9,"date":24},"type":"temporal"},"y":{"datum":318,"type":"quantitative"}}},
  {"data":{"name":"one"},"mark":{"type":"text","fontSize":8,"color":"#2020b0","text":"318.01"},
   "encoding":{"x":{"datum":{"year":2021,"month":9,"date":24},"type":"temporal"},"y":{"datum":318,"type":"quantitative"}}},
  {"data":{"name":"one"},"mark":{"type":"text","fontSize":7.5,"align":"left","color":"#2f5a44","text":"▲@NWST1100 547.25%"},
   "encoding":{"x":{"datum":{"year":2020,"month":9,"date":9},"type":"temporal"},"y":{"datum":745,"type":"quantitative"}}},
  {"data":{"name":"one"},"mark":{"type":"text","fontSize":7.5,"align":"left","color":"#2020b0","text":"—MA(250) 323.13%"},
   "encoding":{"x":{"datum":{"year":2020,"month":9,"date":9},"type":"temporal"},"y":{"datum":698,"type":"quantitative"}}}
 ]},
{"width":821,"height":124,
 "layer":[
  {"data":{"name":"mon"},"mark":{"type":"rect","color":"#f3ebd7"},
   "encoding":{"x":{"field":"s","type":"temporal","title":null,"scale":{"domain":[{"year":2020,"month":9,"date":8},{"year":2021,"month":9,"date":17}]},
     "axis":{"orient":"bottom","grid":true,"labelOverlap":false,"tickCount":300,"labelFlush":false,"labelFontSize":8,"labelPadding":0,"tickSize":2,
      "labelExpr":"date(datum.value) <= 4 ? (month(datum.value) == 0 ? '2021' : timeFormat(datum.value, '%b')) : timeFormat(datum.value, '%-d')",
      "labelFontWeight":{"condition":{"test":"date(datum.value) <= 4","value":"bold"},"value":"normal"},
      "values":[{"year":2020,"month":9,"date":14},{"year":2020,"month":9,"date":21},{"year":2020,"month":10,"date":1},{"year":2020,"month":10,"date":12},{"year":2020,"month":10,"date":19},{"year":2020,"month":10,"date":26},{"year":2020,"month":11,"date":2},{"year":2020,"month":11,"date":9},{"year":2020,"month":11,"date":16},{"year":2020,"month":11,"date":23},{"year":2020,"month":12,"date":1},{"year":2020,"month":12,"date":7},{"year":2020,"month":12,"date":14},{"year":2020,"month":12,"date":21},{"year":2020,"month":12,"date":28},{"year":2021,"month":1,"date":4},{"year":2021,"month":1,"date":11},{"year":2021,"month":1,"date":18},{"year":2021,"month":1,"date":25},{"year":2021,"month":2,"date":1},{"year":2021,"month":2,"date":8},{"year":2021,"month":2,"date":16},{"year":2021,"month":2,"date":22},{"year":2021,"month":3,"date":1},{"year":2021,"month":3,"date":8},{"year":2021,"month":3,"date":15},{"year":2021,"month":3,"date":22},{"year":2021,"month":4,"date":1},{"year":2021,"month":4,"date":12},{"year":2021,"month":4,"date":19},{"year":2021,"month":4,"date":26},{"year":2021,"month":5,"date":3},{"year":2021,"month":5,"date":10},{"year":2021,"month":5,"date":17},{"year":2021,"month":5,"date":24},{"year":2021,"month":6,"date":1},{"year":2021,"month":6,"date":7},{"year":2021,"month":6,"date":14},{"year":2021,"month":6,"date":21},{"year":2021,"month":6,"date":28},{"year":2021,"month":7,"date":1},{"year":2021,"month":7,"date":12},{"year":2021,"month":7,"date":19},{"year":2021,"month":7,"date":26},{"year":2021,"month":8,"date":2},{"year":2021,"month":8,"date":9},{"year":2021,"month":8,"date":16},{"year":2021,"month":8,"date":23},{"year":2021,"month":9,"date":1},{"year":2021,"month":9,"date":6},{"year":2021,"month":9,"date":13}]}},
    "x2":{"field":"e"}}},
  {"data":{"name":"p2"},"mark":{"type":"area","color":"#f0d79c","opacity":0.95,"stroke":"#e6c47c","strokeWidth":0.8},
   "encoding":{"x":{"field":"d","type":"temporal","title":null},
    "y":{"field":"v","type":"quantitative","title":null,"scale":{"domain":[-3.8,34.1],"nice":false,"zero":false},
     "axis":{"orient":"right","grid":true,"tickCount":300,"values":[0,5,10,15,25],"labelExpr":"datum.value + '%'"}},
    "y2":{"datum":-3.8}}},
  {"data":{"name":"m2"},"mark":{"type":"line","color":"#1f1fa0","strokeWidth":1.6,"clip":true},
   "encoding":{"x":{"field":"d","type":"temporal","title":null},"y":{"field":"v","type":"quantitative","title":null}}},
  {"data":{"values":[{"p":31.05},{"p":18.87}]},"mark":{"type":"rule","color":"#1ee01e","strokeWidth":1.6},
   "encoding":{"x":{"datum":{"year":2021,"month":8,"date":13},"type":"temporal"},"x2":{"datum":{"year":2021,"month":9,"date":17}},"y":{"field":"p","type":"quantitative","title":null}}},
  {"data":{"name":"one"},"mark":{"type":"rule","color":"#1ee01e","strokeWidth":1.2,"strokeDash":[3,2]},
   "encoding":{"x":{"datum":{"year":2021,"month":8,"date":30},"type":"temporal"},"y":{"datum":18.87,"type":"quantitative"},"y2":{"datum":31.05}}},
  {"data":{"name":"one"},"mark":{"type":"point","shape":"M-1.3,-0.5H1.3V0.5H-1.3Z","size":400,"filled":true,"fill":"#ffffff","opacity":1},
   "encoding":{"x":{"datum":{"year":2021,"month":8,"date":30},"type":"temporal"},"y":{"datum":24.7,"type":"quantitative"}}},
  {"data":{"name":"one"},"mark":{"type":"text","fontSize":8,"color":"#111","text":"10.3%"},
   "encoding":{"x":{"datum":{"year":2021,"month":8,"date":30},"type":"temporal"},"y":{"datum":24.7,"type":"quantitative"}}},
  {"data":{"name":"one"},"mark":{"type":"point","shape":"M-1.4,-0.55H1.4V0.55H-1.4Z","size":400,"filled":true,"fill":"#ffffff","stroke":"#d09a20","strokeWidth":1,"opacity":1},
   "encoding":{"x":{"datum":{"year":2021,"month":9,"date":24},"type":"temporal"},"y":{"datum":31.05,"type":"quantitative"}}},
  {"data":{"name":"one"},"mark":{"type":"text","fontSize":8,"color":"#222","text":"31.05%"},
   "encoding":{"x":{"datum":{"year":2021,"month":9,"date":24},"type":"temporal"},"y":{"datum":31.05,"type":"quantitative"}}},
  {"data":{"name":"one"},"mark":{"type":"point","shape":"M-1.3,-0.55H1.3V0.55H-1.3Z","size":400,"filled":true,"fill":"#ffffff","stroke":"#2020b0","strokeWidth":1,"opacity":1},
   "encoding":{"x":{"datum":{"year":2021,"month":9,"date":23},"type":"temporal"},"y":{"datum":18.87,"type":"quantitative"}}},
  {"data":{"name":"one"},"mark":{"type":"text","fontSize":8,"color":"#2020b0","text":"18.87"},
   "encoding":{"x":{"datum":{"year":2021,"month":9,"date":23},"type":"temporal"},"y":{"datum":18.87,"type":"quantitative"}}},
  {"data":{"name":"one"},"mark":{"type":"text","fontSize":7.5,"align":"left","color":"#8a6a10","text":"▲$DJW 31.05%"},
   "encoding":{"x":{"datum":{"year":2020,"month":9,"date":9},"type":"temporal"},"y":{"datum":32.7,"type":"quantitative"}}},
  {"data":{"name":"one"},"mark":{"type":"text","fontSize":7.5,"align":"left","color":"#2020b0","text":"—MA(250) 18.87%"},
   "encoding":{"x":{"datum":{"year":2020,"month":9,"date":9},"type":"temporal"},"y":{"datum":30.5,"type":"quantitative"}}}
 ]}
]
}
